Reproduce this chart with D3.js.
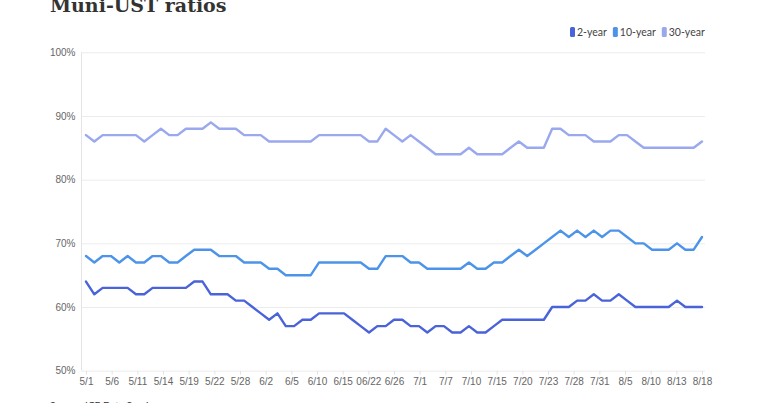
<!DOCTYPE html>
<html>
<head>
<meta charset="utf-8">
<title>Muni-UST ratios</title>
<script src="https://cdn.jsdelivr.net/npm/d3@7"></script>
<style>
  html, body { margin: 0; padding: 0; background: #fff; }
  svg { display: block; font-family: Lato, "Noto Sans", sans-serif; }
  .grid line { stroke: #ececec; }
  .grid .domain { display: none; }
  .ylab text { fill: #666; font-size: 10px; }
  .xlab text { fill: #666; font-size: 10px; }
</style>
</head>
<body>
<div id="chart"></div>
<script>
// tick labels shown along the bottom (evenly spread over the series)
const tickLabels = ['5/1', '5/6', '5/11', '5/14', '5/19', '5/22', '5/28', '6/2', '6/5', '6/10',
  '6/15', '06/22', '6/26', '7/1', '7/7', '7/10', '7/15', '7/20', '7/23', '7/28',
  '7/31', '8/5', '8/10', '8/13', '8/18'];

const seriesNames = ['2-year', '10-year', '30-year'];

// ratios in percent, one value per observation
const ratio2y = [64, 62, 63, 63, 63, 63, 62, 62, 63, 63,
  63, 63, 63, 64, 64, 62, 62, 62, 61, 61,
  60, 59, 58, 59, 57, 57, 58, 58, 59, 59,
  59, 59, 58, 57, 56, 57, 57, 58, 58, 57,
  57, 56, 57, 57, 56, 56, 57, 56, 56, 57,
  58, 58, 58, 58, 58, 58, 60, 60, 60, 61,
  61, 62, 61, 61, 62, 61, 60, 60, 60, 60,
  60, 61, 60, 60, 60];

const ratio10y = [68, 67, 68, 68, 67, 68, 67, 67, 68, 68,
  67, 67, 68, 69, 69, 69, 68, 68, 68, 67,
  67, 67, 66, 66, 65, 65, 65, 65, 67, 67,
  67, 67, 67, 67, 66, 66, 68, 68, 68, 67,
  67, 66, 66, 66, 66, 66, 67, 66, 66, 67,
  67, 68, 69, 68, 69, 70, 71, 72, 71, 72,
  71, 72, 71, 72, 72, 71, 70, 70, 69, 69,
  69, 70, 69, 69, 71];

const ratio30y = [87, 86, 87, 87, 87, 87, 87, 86, 87, 88,
  87, 87, 88, 88, 88, 89, 88, 88, 88, 87,
  87, 87, 86, 86, 86, 86, 86, 86, 87, 87,
  87, 87, 87, 87, 86, 86, 88, 87, 86, 87,
  86, 85, 84, 84, 84, 84, 85, 84, 84, 84,
  84, 85, 86, 85, 85, 85, 88, 88, 87, 87,
  87, 86, 86, 86, 87, 87, 86, 85, 85, 85,
  85, 85, 85, 85, 86];

const yTicks = [50, 60, 70, 80, 90, 100];

const colors = ['#4a63d9', '#4c94e9', '#9aa8ee'];
const W = 768;
const H = 403;


window.onload = () => {
  const svg = d3.select('#chart')
    .append('svg')
    .attr('width', W)
    .attr('height', H);

  const series = [ratio2y, ratio10y, ratio30y];
  const n = ratio2y.length;

  const x = d3.scaleLinear()
    .domain([0, n - 1])
    .range([86, 702]);

  const y = d3.scaleLinear()
    .domain([50, 100])
    .range([370.7, 52.3]);

  // title (partly cut off at the top, as in the source)
  svg.append('text')
    .attr('x', 50)
    .attr('y', 12)
    .attr('font-family', '"DejaVu Serif", serif')
    .attr('font-weight', 'bold')
    .attr('font-size', 19)
    .attr('fill', '#333')
    .text('Muni-UST ratios');

  // legend
  const legend = svg.append('g').attr('transform', 'translate(570, 32)');
  let lx = 0;
  seriesNames.forEach((name, i) => {
    const g = legend.append('g').attr('transform', `translate(${lx}, 0)`);
    g.append('rect')
      .attr('x', 0)
      .attr('y', -5)
      .attr('width', 5)
      .attr('height', 10)
      .attr('rx', 1.5)
      .attr('fill', colors[i]);
    const t = g.append('text')
      .attr('x', 7)
      .attr('dy', '0.35em')
      .attr('font-size', 10.5)
      .attr('fill', '#444')
      .text(name);
    lx += 7 + t.node().getComputedTextLength() + 6;
  });

  // horizontal gridlines + y labels
  svg.append('g')
    .attr('class', 'grid')
    .attr('transform', 'translate(81.5, 0)')
    .call(d3.axisLeft(y).tickValues(yTicks).tickSize(-(705 - 81.5)).tickFormat(''));

  svg.append('g')
    .attr('class', 'ylab')
    .attr('transform', 'translate(81.5, 0)')
    .call(d3.axisLeft(y).tickValues(yTicks).tickSize(0).tickPadding(6).tickFormat(d => d + '%'))
    .call(g => g.select('.domain').remove());

  // vertical axis line on the left
  svg.append('line')
    .attr('x1', 81.5).attr('x2', 81.5)
    .attr('y1', y(100)).attr('y2', y(50))
    .attr('stroke', '#e4e4e4');

  // bottom labels, evenly spread over the series range
  const tickPos = tickLabels.map((d, i) => i * (n - 1) / (tickLabels.length - 1));
  svg.append('g')
    .attr('class', 'xlab')
    .attr('transform', `translate(0, ${y(50)})`)
    .call(d3.axisBottom(x).tickValues(tickPos).tickSize(4).tickPadding(3)
      .tickFormat((d, i) => tickLabels[i]))
    .call(g => g.select('.domain').remove())
    .call(g => g.selectAll('.tick line').attr('stroke', '#e4e4e4'));

  // lines
  const line = d3.line()
    .x((d, i) => x(i))
    .y(d => y(d));

  svg.append('g')
    .selectAll('path')
    .data(series)
    .enter()
    .append('path')
    .attr('d', line)
    .attr('fill', 'none')
    .attr('stroke', (d, i) => colors[i])
    .attr('stroke-width', 2.4)
    .attr('stroke-linejoin', 'round')
    .attr('stroke-linecap', 'round');

  // source note (cut off at the bottom edge)
  svg.append('text')
    .attr('x', 50)
    .attr('y', 409)
    .attr('font-size', 10)
    .attr('fill', '#333')
    .text('Source: ICE Data Services');
};
</script>
</body>
</html>
